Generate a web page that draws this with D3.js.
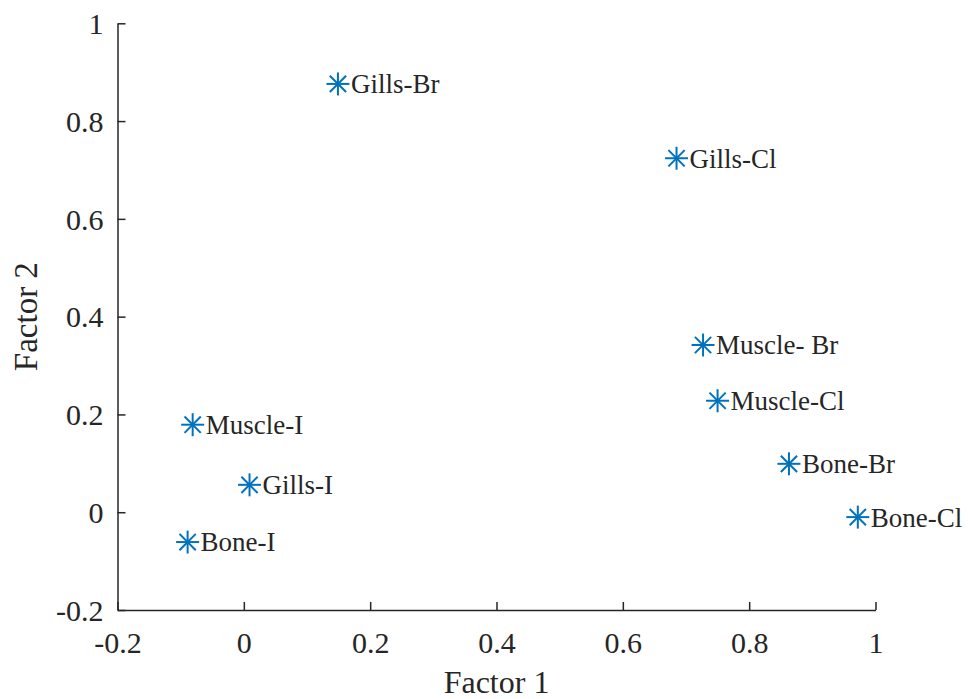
<!DOCTYPE html>
<html>
<head>
<meta charset="utf-8">
<script src="https://cdn.jsdelivr.net/npm/d3@7"></script>
<style>
    body { margin: 0; background: #fff; }
    svg text { font-family: "Liberation Serif", "Times New Roman", serif; fill: #262626; }
</style>
</head>
<body>
<svg id="chart" width="968" height="699"></svg>
<script>
// factor loadings
const labels = ["Gills-Br", "Gills-Cl", "Muscle- Br", "Muscle-Cl", "Bone-Br", "Bone-Cl", "Muscle-I", "Gills-I", "Bone-I"];
const factor1 = [0.149, 0.685, 0.727, 0.750, 0.863, 0.972, -0.081, 0.009, -0.089];
const factor2 = [0.876, 0.724, 0.342, 0.228, 0.099, -0.010, 0.179, 0.056, -0.061];
const ticks = [-0.2, 0, 0.2, 0.4, 0.6, 0.8, 1];

const data = labels.map((name, i) => ({ name: name, f1: factor1[i], f2: factor2[i] }));

const svg = d3.select('#chart');
const margin = { top: 23.3, right: 92.5, bottom: 89, left: 117.5 };
const width = 968 - margin.left - margin.right;
const height = 699 - margin.top - margin.bottom;
const g = svg.append("g").attr("transform", `translate(${margin.left},${margin.top})`);

const x = d3.scaleLinear().domain([-0.2, 1]).range([0, width]);
const y = d3.scaleLinear().domain([-0.2, 1]).range([height, 0]);

// plain hyphen for negatives, like the original
const fmt = d => String(d);

const xAxis = d3.axisBottom(x).tickValues(ticks).tickFormat(fmt)
    .tickSizeInner(-8).tickSizeOuter(0).tickPadding(22);
const yAxis = d3.axisLeft(y).tickValues(ticks).tickFormat(fmt)
    .tickSizeInner(-8).tickSizeOuter(0).tickPadding(14);

const gx = g.append("g")
    .attr("class", "x axis")
    .attr("transform", `translate(0,${height})`)
    .call(xAxis);
const gy = g.append("g")
    .attr("class", "y axis")
    .call(yAxis);

[gx, gy].forEach(a => {
    a.selectAll("path, line").attr("stroke", "#262626").attr("stroke-width", 1.5);
    a.selectAll("text").attr("font-size", 30).attr("fill", "#262626");
});
gy.selectAll("text").attr("dy", "0.34em");

// axis titles
svg.append("text")
    .attr("x", margin.left + width / 2)
    .attr("y", 693)
    .attr("text-anchor", "middle")
    .attr("font-size", 32)
    .text("Factor 1");

svg.append("text")
    .attr("transform", `translate(37,${margin.top + height / 2}) rotate(-90)`)
    .attr("text-anchor", "middle")
    .attr("font-size", 33)
    .text("Factor 2");

// asterisk markers
const r = 11.5;
const arms = [0, 45, 90, 135];
const pts = g.selectAll(".pt")
    .data(data)
    .enter().append("g")
    .attr("class", "pt")
    .attr("transform", d => `translate(${x(d.f1)},${y(d.f2)})`);

arms.forEach(a => {
    const rad = a * Math.PI / 180;
    pts.append("line")
        .attr("x1", -r * Math.cos(rad)).attr("y1", -r * Math.sin(rad))
        .attr("x2", r * Math.cos(rad)).attr("y2", r * Math.sin(rad))
        .attr("stroke", "#0072BD")
        .attr("stroke-width", 2);
});

pts.append("text")
    .attr("x", 13)
    .attr("dy", "0.35em")
    .attr("font-size", 27)
    .text(d => d.name);
</script>
</body>
</html>
